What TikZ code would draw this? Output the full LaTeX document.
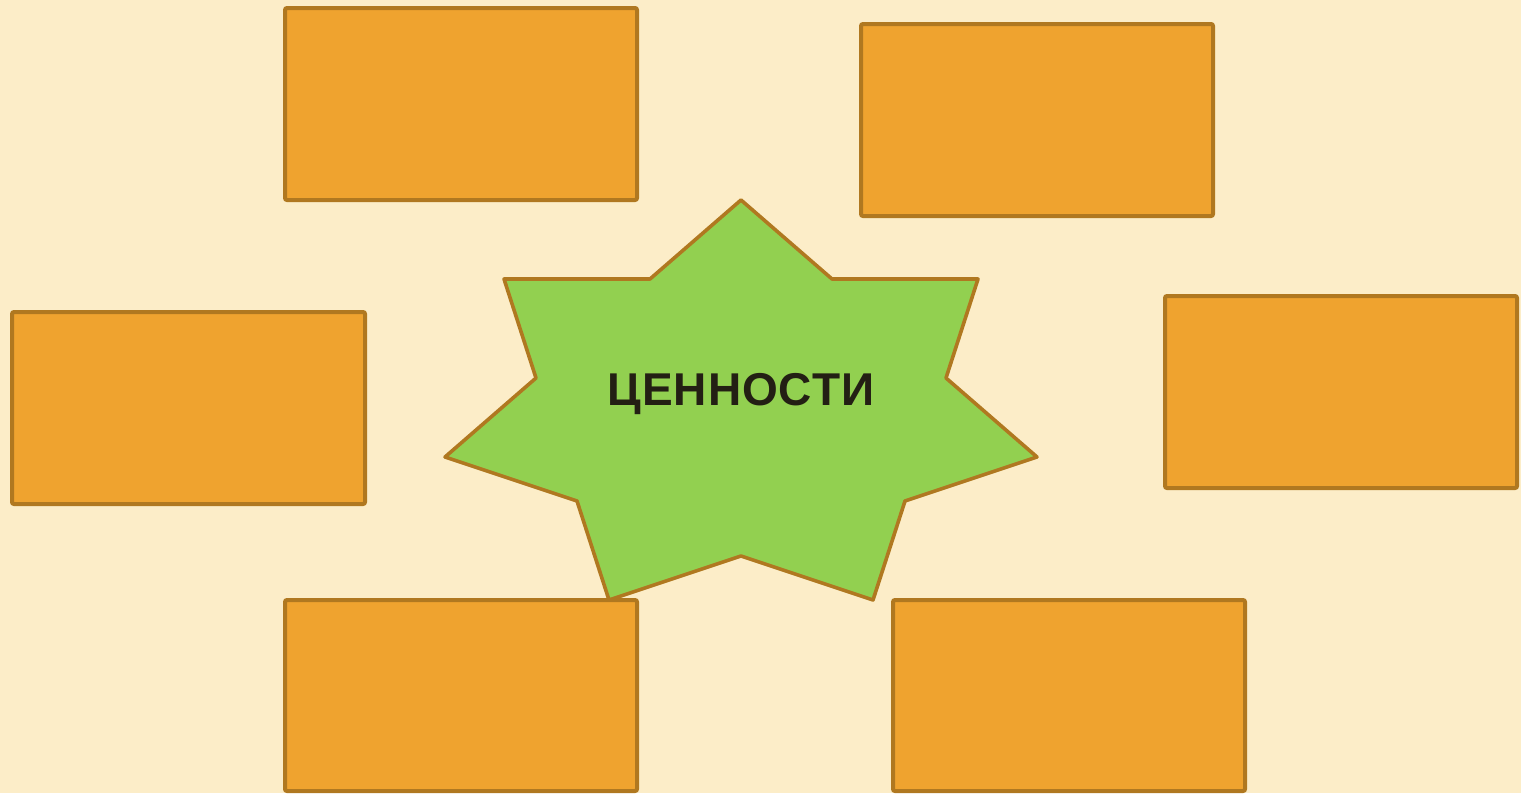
\documentclass[tikz,border=0pt]{standalone}
\usepackage{fontspec}
\setmainfont{Liberation Sans}
\newfontfamily\titlefont[LetterSpace=2]{Liberation Sans}
\definecolor{bg}{HTML}{FCEDC8}
\definecolor{boxfill}{HTML}{EFA32F}
\definecolor{edge}{HTML}{B07820}
\definecolor{starfill}{HTML}{92D050}
\definecolor{txt}{HTML}{231F14}
\begin{document}
\begin{tikzpicture}[x=0.5pt,y=-0.5pt,
  card/.style={draw=edge,fill=boxfill,line width=2pt,rounded corners=1pt,inner sep=0pt,outer sep=0pt,anchor=north west,minimum width=176pt,minimum height=96pt},
  starshape/.style={draw=edge,fill=starfill,line width=1.8pt,line join=round},
  title/.style={font=\titlefont\bfseries\fontsize{23}{26}\selectfont,text=txt,inner sep=0pt,anchor=base}]
\fill[bg] (0,0) rectangle (1521,793);
\useasboundingbox (0,0) rectangle (1521,793);
\draw[starshape] (741,200) -- (832,279) -- (978,279) -- (946,378) -- (1037,457) -- (905,501) -- (873,600) -- (741,556) -- (609,600) -- (577,501) -- (445,457) -- (536,378) -- (504,279) -- (650,279) -- cycle;
\node[title] (center) at (741,405) {ЦЕННОСТИ};
\node[card] (b1) at (285,8) {};
\node[card] (b2) at (861,24) {};
\node[card,minimum width=176.5pt] (b3) at (12,312) {};
\node[card] (b4) at (1165,296) {};
\node[card,minimum height=95.5pt] (b5) at (285,600) {};
\node[card,minimum height=95.5pt] (b6) at (893,600) {};
\end{tikzpicture}
\end{document}
